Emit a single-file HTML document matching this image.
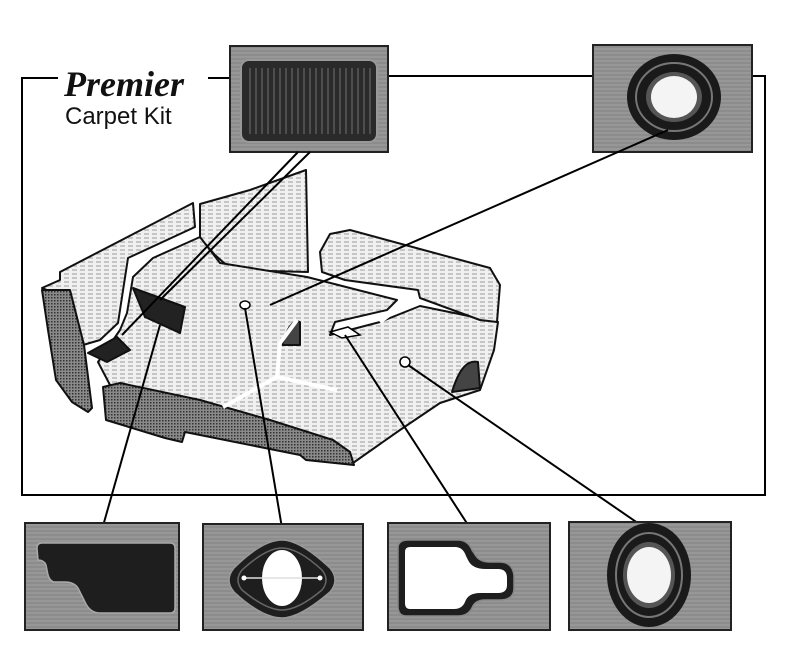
<!DOCTYPE html>
<html><head><meta charset="utf-8"><style>
html,body{margin:0;padding:0;background:#fff;width:800px;height:648px;overflow:hidden}
</style></head><body>
<svg width="800" height="648" viewBox="0 0 800 648" xmlns="http://www.w3.org/2000/svg">
<defs>
<pattern id="cp" width="8" height="4" patternUnits="userSpaceOnUse">
<rect width="8" height="4" fill="#f0f0f0"/>
<line x1="0" y1="2" x2="5" y2="2" stroke="#888" stroke-width="0.8"/>
</pattern>
<pattern id="dk" width="3" height="3" patternUnits="userSpaceOnUse">
<rect width="3" height="3" fill="#8a8a8a"/>
<rect width="1.5" height="1.5" fill="#333"/>
</pattern>
<pattern id="gb" width="6" height="4" patternUnits="userSpaceOnUse">
<rect width="6" height="4" fill="#8c8c8c"/>
<line x1="0" y1="1" x2="6" y2="1" stroke="#a2a2a2" stroke-width="1"/>
</pattern>
</defs>
<g stroke="#000" stroke-width="2" fill="none">
<polyline points="58,78 22,78 22,495 765,495 765,76 752,76"/>
<line x1="208" y1="78" x2="230" y2="78"/>
<line x1="388" y1="76" x2="593" y2="76"/>
</g>
<text x="64" y="96" font-family="Liberation Serif, serif" font-style="italic" font-weight="bold" font-size="36" fill="#111">Premier</text>
<text x="65" y="124" font-family="Liberation Sans, sans-serif" font-size="24" fill="#111">Carpet Kit</text>

<rect x="230" y="46" width="158" height="106" fill="url(#gb)" stroke="#222" stroke-width="2"/>
<rect x="241" y="60" width="136" height="82" rx="8" fill="#2a2a2a" stroke="#999" stroke-width="2"/>
<g stroke="#666" stroke-width="1.2">
<line x1="250" y1="68" x2="250" y2="134"/><line x1="256" y1="68" x2="256" y2="134"/><line x1="262" y1="68" x2="262" y2="134"/><line x1="268" y1="68" x2="268" y2="134"/><line x1="274" y1="68" x2="274" y2="134"/><line x1="280" y1="68" x2="280" y2="134"/><line x1="286" y1="68" x2="286" y2="134"/><line x1="292" y1="68" x2="292" y2="134"/><line x1="298" y1="68" x2="298" y2="134"/><line x1="304" y1="68" x2="304" y2="134"/><line x1="310" y1="68" x2="310" y2="134"/><line x1="316" y1="68" x2="316" y2="134"/><line x1="322" y1="68" x2="322" y2="134"/><line x1="328" y1="68" x2="328" y2="134"/><line x1="334" y1="68" x2="334" y2="134"/><line x1="340" y1="68" x2="340" y2="134"/><line x1="346" y1="68" x2="346" y2="134"/><line x1="352" y1="68" x2="352" y2="134"/><line x1="358" y1="68" x2="358" y2="134"/><line x1="364" y1="68" x2="364" y2="134"/><line x1="370" y1="68" x2="370" y2="134"/>
</g>
<rect x="593" y="45" width="159" height="107" fill="url(#gb)" stroke="#222" stroke-width="2"/>
<ellipse cx="674" cy="97" rx="47" ry="43" fill="#1a1a1a"/>
<ellipse cx="674" cy="97" rx="38" ry="34" fill="none" stroke="#777" stroke-width="2"/>
<ellipse cx="674" cy="97" rx="28" ry="25" fill="#555"/>
<ellipse cx="674" cy="97" rx="23" ry="21" fill="#f4f4f4"/>

<g stroke="#111" stroke-width="2" stroke-linejoin="round">
<polygon fill="url(#cp)" points="42,288 60,280 60,272 193,203 195,227 128,258 118,323 100,340 83,345 62,296"/>
<polygon fill="url(#dk)" points="42,290 70,290 84,345 92,408 88,412 72,402 56,380 48,330"/>
<polygon fill="url(#cp)" points="200,204 250,190 306,170 308,272 232,270 215,255 200,238"/>
<polygon fill="url(#cp)" points="98,362 120,330 127,313 133,277 153,258 200,237 220,263 307,277 397,300 387,310 335,322 330,335 380,322 420,306 498,322 494,350 480,390 440,403 400,430 353,463 333,440 290,430 230,410 200,400 110,385"/>
<polygon fill="url(#cp)" points="320,252 330,234 350,230 490,268 500,285 497,322 480,320 420,298 418,290 345,280 322,272"/>
<polygon fill="url(#dk)" points="103,387 120,383 200,400 270,420 333,440 350,452 354,465 306,460 300,455 185,432 182,442 165,438 106,420"/>
<path d="M282,345 Q290,318 300,322 L300,345 Z" fill="#444"/>
<path d="M452,392 Q462,358 478,362 L480,388 Z" fill="#444"/>
<polygon fill="#222" points="133,288 185,307 180,333 145,317"/>
<polygon fill="#222" points="88,353 117,337 130,350 107,362"/>
</g>
<g stroke="#fff" stroke-width="4" fill="none">
<polyline points="297,320 280,343 277,377 223,407"/>
<line x1="277" y1="377" x2="337" y2="390"/>
<line x1="380" y1="322" x2="398" y2="308"/>
</g>
<g stroke="#000" stroke-width="1.5" fill="#fff">
<ellipse cx="245" cy="305" rx="5" ry="4"/>
<polygon points="330,332 348,327 360,335 342,338"/>
<circle cx="405" cy="362" r="5"/>
</g>

<g stroke="#000" stroke-width="2">
<line x1="298" y1="152" x2="122" y2="335"/>
<line x1="310" y1="152" x2="160" y2="300"/>
<line x1="668" y1="130" x2="270" y2="305"/>
<line x1="160" y1="325" x2="103" y2="526"/>
<line x1="245" y1="308" x2="282" y2="528"/>
<line x1="345" y1="335" x2="470" y2="528"/>
<line x1="408" y1="365" x2="645" y2="528"/>
</g>

<rect x="25" y="523" width="154" height="107" fill="url(#gb)" stroke="#222" stroke-width="2"/>
<path d="M37,548 Q37,543 42,543 L170,543 Q175,543 175,548 L175,608 Q175,613 170,613 L100,613 Q90,613 85,602 L78,588 Q74,582 65,582 L55,582 Q50,582 48,575 L46,565 Q44,560 38,560 Z" fill="#1e1e1e" stroke="#aaa" stroke-width="1.5"/>
<rect x="203" y="524" width="160" height="106" fill="url(#gb)" stroke="#222" stroke-width="2"/>
<path d="M282,540 Q300,540 330,568 Q340,580 330,592 Q300,618 282,618 Q262,618 234,592 Q224,580 234,568 Q262,540 282,540 Z" fill="#1e1e1e" stroke="#999" stroke-width="1.5"/>
<path d="M282,548 Q298,548 322,570 Q330,580 322,590 Q298,610 282,610 Q266,610 242,590 Q234,580 242,570 Q266,548 282,548 Z" fill="none" stroke="#666" stroke-width="1.5"/>
<ellipse cx="282" cy="578" rx="20" ry="28" fill="#fff"/>
<line x1="244" y1="578" x2="320" y2="578" stroke="#ddd" stroke-width="1.5"/>
<circle cx="244" cy="578" r="2.5" fill="#fff"/><circle cx="320" cy="578" r="2.5" fill="#fff"/>
<rect x="388" y="523" width="162" height="107" fill="url(#gb)" stroke="#222" stroke-width="2"/>
<path d="M398,548 Q398,540 408,540 L458,540 Q468,540 472,550 L476,556 Q480,562 490,562 L500,562 Q512,562 514,575 L514,588 Q514,600 500,600 L485,600 Q475,600 472,608 Q468,616 458,616 L406,616 Q398,616 398,606 Z" fill="#1e1e1e" stroke="#888" stroke-width="1.5"/>
<path d="M405,552 Q405,547 410,547 L455,547 Q463,547 466,556 L468,560 Q472,569 486,569 L498,569 Q507,569 507,578 L507,585 Q507,593 498,593 L480,593 Q468,593 465,602 Q462,609 454,609 L410,609 Q405,609 405,603 Z" fill="#fff"/>
<rect x="569" y="522" width="162" height="108" fill="url(#gb)" stroke="#222" stroke-width="2"/>
<ellipse cx="649" cy="575" rx="42" ry="52" fill="#1a1a1a"/>
<ellipse cx="649" cy="575" rx="33" ry="42" fill="none" stroke="#777" stroke-width="2"/>
<ellipse cx="649" cy="575" rx="26" ry="33" fill="#555"/>
<ellipse cx="649" cy="575" rx="22" ry="28" fill="#f4f4f4"/>
</svg>
</body></html>
